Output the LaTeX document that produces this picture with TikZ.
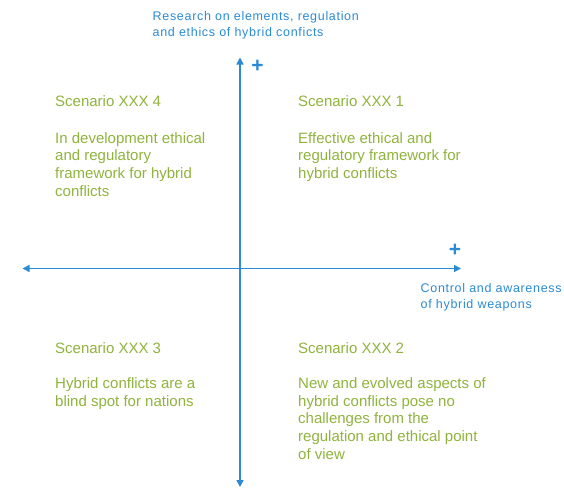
\documentclass[tikz,border=0pt]{standalone}
\usepackage{fontspec}
\setmainfont{Liberation Sans}
\newfontfamily\bluefont[LetterSpace=5.5]{Liberation Sans}
\usetikzlibrary{arrows.meta}
\definecolor{axisblue}{HTML}{2B8AD4}
\definecolor{scgreen}{HTML}{8FB33C}
\begin{document}
\begin{tikzpicture}[x=1pt,y=-1pt,
  axisline/.style={draw=axisblue,line width=1.5pt,-{Triangle[length=7pt,width=7pt]}},
  bluetxt/.style={text=axisblue,font=\bluefont\fontsize{12.5}{16}\selectfont,align=left,inner sep=0pt,anchor=north west},
  greentitle/.style={text=scgreen,font=\fontsize{15}{17.7}\selectfont,inner sep=0pt,anchor=north west},
  greentxt/.style={text=scgreen,font=\fontsize{15}{17.7}\selectfont,align=left,inner sep=0pt,anchor=north west},
  plus/.style={text=axisblue,font=\fontsize{21}{21}\selectfont\bfseries,inner sep=0pt}]
\useasboundingbox (0,0) rectangle (564,488);
\coordinate (c) at (240,268.5);
\coordinate (top) at (240,57.5);
\coordinate (bot) at (240,487);
\coordinate (lft) at (22.5,268.5);
\coordinate (rgt) at (461,268.5);
\draw[axisline] (c) -- (top);
\draw[axisline] (c) -- (bot);
\draw[axisline] (c) -- (lft);
\draw[axisline] (c) -- (rgt);
\node[plus] (p1) at (257.5,66) {+};
\node[plus] (p2) at (455,250.5) {+};
\node[bluetxt] (ylab) at (152.5,11) {Research on elements, regulation\\and ethics of hybrid conficts};
\node[bluetxt] (xlab) at (420.5,283) {Control and awareness\\of hybrid weapons};
\node[greentitle] (t4) at (55,95.5) {Scenario XXX 4};
\node[greentxt] (b4) at (55,132) {In development ethical\\and regulatory\\framework for hybrid\\conflicts};
\node[greentitle] (t1) at (298,95.5) {Scenario XXX 1};
\node[greentxt] (b1) at (298,132) {Effective ethical and\\regulatory framework for\\hybrid conflicts};
\node[greentitle] (t3) at (55,342.5) {Scenario XXX 3};
\node[greentxt] (b3) at (55,377.5) {Hybrid conflicts are a\\blind spot for nations};
\node[greentitle] (t2) at (298,342.5) {Scenario XXX 2};
\node[greentxt] (b2) at (298,377.5) {New and evolved aspects of\\hybrid conflicts pose no\\challenges from the\\regulation and ethical point\\of view};
\end{tikzpicture}
\end{document}
